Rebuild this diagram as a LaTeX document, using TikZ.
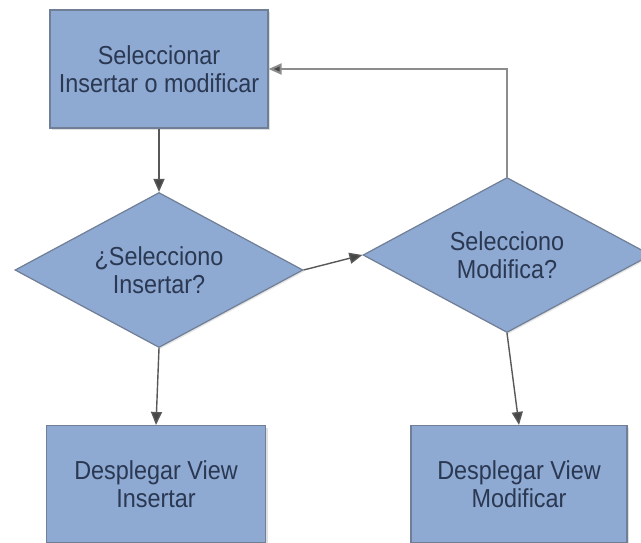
\documentclass[tikz,border=0pt]{standalone}
\usepackage{fontspec}
\newfontfamily\flowfont[FakeStretch=0.9]{Liberation Sans}
\usetikzlibrary{shapes.geometric,arrows.meta,shadows}
\definecolor{boxfill}{RGB}{142,169,210}
\definecolor{boxline}{RGB}{112,126,150}
\definecolor{boxtext}{RGB}{42,56,82}
\definecolor{flowline}{RGB}{88,88,88}
\definecolor{loopline}{RGB}{140,140,140}
\tikzset{
  flowtext/.style={text=boxtext, font=\flowfont\fontsize{26}{28}\selectfont, align=center},
  procbox/.style={flowtext, rectangle, draw=boxline, line width=1.2pt, fill=boxfill,
    inner sep=0pt, drop shadow={opacity=0.25, shadow xshift=2pt, shadow yshift=-2pt}},
  decision/.style={flowtext, diamond, shape aspect=1.86, draw=boxline, line width=1.2pt,
    fill=boxfill, inner sep=0pt, minimum width=288pt, minimum height=155pt,
    drop shadow={opacity=0.2, shadow xshift=1.5pt, shadow yshift=-1.5pt}},
  flowarrow/.style={draw=flowline, line width=1.4pt,
    -{Triangle[length=13pt,width=11pt,fill=flowline!80!black]}},
  looparrow/.style={draw=loopline, line width=2pt,
    -{Triangle[length=13pt,width=11pt,fill=flowline!80!black]}}
}
\begin{document}
\begin{tikzpicture}[x=1pt,y=-1pt]
  \fill[white] (0,0) rectangle (641,542);
  \useasboundingbox (0,0) rectangle (641,542);

  % process boxes
  \node[procbox, minimum width=218pt, minimum height=118pt] (sel) at (159,69)
    {Seleccionar\\Insertar o modificar};
  \node[procbox, minimum width=219pt, minimum height=117pt] (vins) at (156,484)
    {Desplegar View\\Insertar};
  \node[procbox, minimum width=216pt, minimum height=117pt] (vmod) at (519,484)
    {Desplegar View\\Modificar};

  % decisions
  \node[decision] (qins) at (159,270) {¿Selecciono\\Insertar?};
  \node[decision] (qmod) at (507,255) {Selecciono\\Modifica?};

  % connectors
  \draw[flowarrow] (sel.south) -- (qins.north);
  \draw[flowarrow] (qins.east) -- (qmod.west);
  \draw[looparrow] (qmod.north) |- (sel.east);
  \draw[flowarrow] (qins.south) -- (vins.north);
  \draw[flowarrow] (qmod.south) -- (vmod.north);
\end{tikzpicture}
\end{document}
